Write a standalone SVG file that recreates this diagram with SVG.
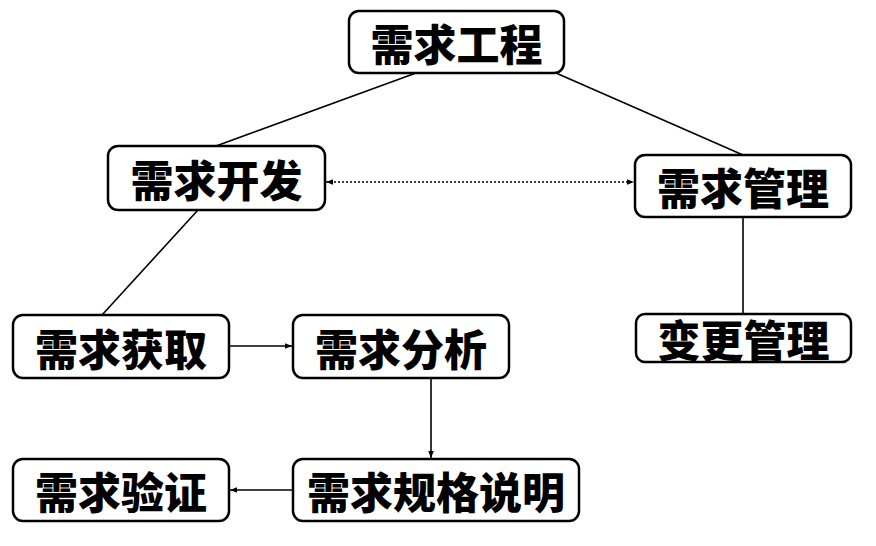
<svg xmlns="http://www.w3.org/2000/svg" width="876" height="546" viewBox="0 0 876 546">
<style>
.box{fill:#fff;stroke:#000;stroke-width:2.5}
.t{font-family:"Noto Sans CJK SC","Noto Sans CJK JP",sans-serif;font-weight:900;font-size:43px;fill:#000;text-anchor:middle;dominant-baseline:central}
.c{stroke:#000;stroke-width:1.6;fill:none}
.d{stroke:#000;stroke-width:1.5;fill:none;stroke-dasharray:2 2}
</style>
<defs>
<marker id="ah" viewBox="0 0 10 10" refX="10" refY="5" markerWidth="7" markerHeight="7" orient="auto-start-reverse" markerUnits="userSpaceOnUse">
<path d="M0,1 L10,5 L0,9 z" fill="#000"/>
</marker>
</defs>
<rect width="876" height="546" fill="#fff"/>
<g id="connectors">
<line class="c" x1="416" y1="73" x2="216" y2="146"/>
<line class="c" x1="556" y1="73" x2="743" y2="155"/>
<line class="c" x1="198" y1="210" x2="102" y2="315"/>
<line class="c" x1="743" y1="217" x2="743" y2="314"/>
<line class="d" x1="326" y1="182" x2="634" y2="182" marker-start="url(#ah)" marker-end="url(#ah)"/>
<line class="c" x1="229" y1="346" x2="292" y2="346" marker-end="url(#ah)"/>
<line class="c" x1="431" y1="378" x2="431" y2="458" marker-end="url(#ah)"/>
<line class="c" x1="293" y1="490" x2="230" y2="490" marker-end="url(#ah)"/>
</g>
<g id="n1"><rect class="box" x="349" y="11" width="215" height="62" rx="10"/><text class="t" x="456.5" y="42">需求工程</text></g>
<g id="n2"><rect class="box" x="108" y="146" width="217" height="64" rx="10"/><text class="t" x="216.5" y="178">需求开发</text></g>
<g id="n3"><rect class="box" x="635" y="155" width="216" height="62" rx="10"/><text class="t" x="743" y="186">需求管理</text></g>
<g id="n4"><rect class="box" x="13" y="315" width="216" height="63" rx="10"/><text class="t" x="121" y="346.5">需求获取</text></g>
<g id="n5"><rect class="box" x="293" y="315" width="216" height="63" rx="10"/><text class="t" x="401" y="346.5">需求分析</text></g>
<g id="n6"><rect class="box" x="636" y="314" width="215" height="48" rx="9"/><text class="t" x="743.5" y="338">变更管理</text></g>
<g id="n7"><rect class="box" x="13" y="459" width="216" height="62" rx="10"/><text class="t" x="121" y="490">需求验证</text></g>
<g id="n8"><rect class="box" x="293" y="459" width="286" height="62" rx="10"/><text class="t" x="436" y="490">需求规格说明</text></g>
</svg>
